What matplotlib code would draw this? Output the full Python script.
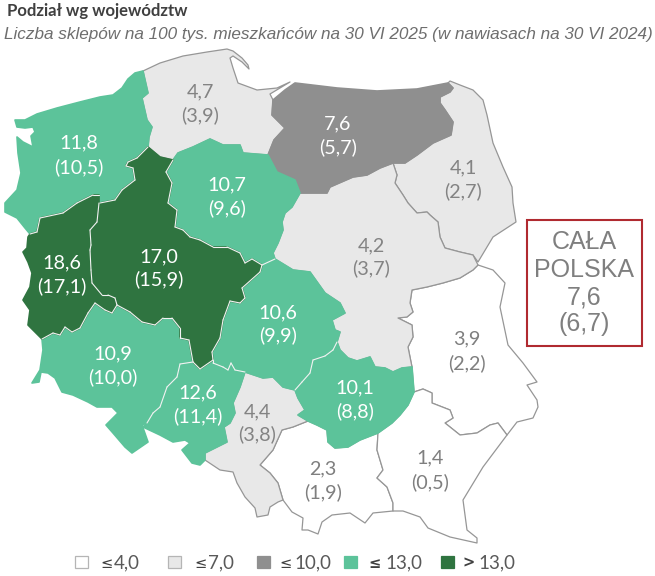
import matplotlib
matplotlib.use("Agg")
import matplotlib.pyplot as plt
from matplotlib.patches import Polygon, Rectangle

# --- data ---
regions = ["zachodniopomorskie", "pomorskie", "warminsko-mazurskie", "podlaskie",
           "kujawsko-pomorskie", "wielkopolskie", "lubuskie", "dolnoslaskie",
           "opolskie", "slaskie", "lodzkie", "mazowieckie", "swietokrzyskie",
           "malopolskie", "lubelskie", "podkarpackie"]
values_2025 = [11.8, 4.7, 7.6, 4.1, 10.7, 17.0, 18.6, 10.9, 12.6, 4.4, 10.6, 4.2, 10.1, 2.3, 3.9, 1.4]
values_2024 = [10.5, 3.9, 5.7, 2.7, 9.6, 15.9, 17.1, 10.0, 11.4, 3.8, 9.9, 3.7, 8.8, 1.9, 2.2, 0.5]
thresholds = [4.0, 7.0, 10.0, 13.0]
legend_signs = ["≤", "≤", "≤", "≤", ">"]
legend_numbers = ["4,0", "7,0", "10,0", "13,0", "13,0"]
total_2025 = 7.6
total_2024 = 6.7

# region outlines (pixels)
shapes = {
    "zachodniopomorskie": [(143,71),(135,73),(128,79),(122,88),(113,95),(100,97),(80,102),(57,108),(37,114),(25,120),(15,120),(17,127),(25,128),(33,127),(35,132),(31,136),(33,147),(23,142),(17,137),(18,153),(21,173),(17,190),(5,203),(5,212),(17,218),(25,228),(30,234),(37,232),(40,218),(63,213),(77,203),(93,195),(99,195),(100,203),(115,200),(122,190),(135,180),(133,168),(126,166),(128,162),(137,158),(148,147),(149,137),(152,127),(147,120),(142,98),(148,93)],
    "pomorskie": [(143,71),(160,63),(183,56),(207,52),(227,49),(233,51),(242,58),(248,65),(249,69),(242,62),(233,56),(230,58),(233,68),(238,83),(257,90),(277,88),(290,82),(270,94),(273,100),(272,115),(285,128),(274,140),(268,155),(243,153),(240,145),(223,145),(210,139),(193,147),(178,153),(173,160),(160,157),(148,147),(149,137),(152,127),(147,120),(142,98),(148,93)],
    "warminsko-mazurskie": [(295,83),(337,88),(377,91),(417,89),(448,83),(453,88),(450,92),(440,97),(440,103),(445,110),(453,122),(451,135),(433,143),(417,155),(405,163),(393,163),(380,168),(367,175),(353,177),(330,187),(327,193),(307,193),(300,193),(295,180),(277,172),(268,155),(274,140),(285,128),(272,115),(273,100),(285,90)],
    "podlaskie": [(448,83),(450,81),(460,85),(473,90),(483,100),(487,115),(493,143),(503,167),(512,187),(513,203),(516,222),(493,237),(478,262),(473,255),(460,252),(445,248),(440,237),(438,222),(430,215),(427,212),(417,213),(408,203),(403,195),(395,183),(397,175),(393,163),(405,163),(417,155),(433,143),(451,135),(453,122),(445,110),(440,103),(440,97),(450,92),(453,88)],
    "kujawsko-pomorskie": [(178,153),(193,147),(210,139),(223,145),(240,145),(243,153),(268,155),(277,172),(295,180),(300,193),(292,207),(285,213),(282,222),(283,230),(278,243),(273,253),(275,259),(262,265),(252,259),(245,263),(240,253),(227,247),(213,247),(200,240),(190,237),(183,230),(175,227),(177,210),(168,203),(172,183),(166,172),(173,160)],
    "wielkopolskie": [(148,147),(160,157),(173,160),(166,172),(172,183),(168,203),(177,210),(175,227),(183,230),(190,237),(200,240),(213,247),(227,247),(240,253),(245,263),(252,259),(262,265),(260,272),(242,288),(245,298),(240,303),(230,301),(223,320),(220,338),(212,352),(213,360),(200,369),(193,362),(189,340),(180,338),(180,328),(172,318),(163,318),(155,325),(142,322),(130,312),(117,305),(115,298),(108,295),(102,295),(92,283),(91,270),(90,250),(91,245),(90,230),(97,222),(99,203),(100,203),(115,200),(122,190),(135,180),(133,168),(126,166),(128,162),(137,158)],
    "lubuskie": [(30,234),(37,232),(40,218),(63,213),(77,203),(93,195),(99,195),(99,203),(97,222),(90,230),(91,245),(90,250),(91,270),(92,283),(102,295),(108,295),(115,298),(117,305),(112,313),(105,310),(95,303),(88,313),(80,328),(72,332),(65,327),(60,335),(53,333),(42,339),(28,325),(30,310),(23,300),(30,287),(32,273),(28,262),(23,252),(27,248),(28,237)],
    "dolnoslaskie": [(42,339),(53,333),(60,335),(65,327),(72,332),(80,328),(88,313),(95,303),(105,310),(112,313),(117,305),(130,312),(142,322),(155,325),(163,318),(172,318),(180,328),(180,338),(189,340),(193,362),(180,364),(177,377),(167,387),(160,407),(153,413),(147,423),(142,425),(148,442),(132,453),(125,447),(113,433),(106,425),(118,413),(112,407),(97,407),(88,402),(73,395),(62,392),(55,378),(48,373),(41,372),(39,382),(32,383),(40,370),(43,350)],
    "opolskie": [(180,364),(193,362),(200,369),(213,360),(213,363),(223,367),(228,370),(231,363),(235,370),(245,372),(240,387),(233,403),(235,413),(230,423),(224,427),(227,442),(205,453),(205,460),(200,465),(192,463),(182,450),(190,443),(185,440),(173,442),(160,435),(143,427),(147,423),(153,413),(160,407),(167,387),(177,377)],
    "slaskie": [(245,372),(263,378),(273,377),(283,387),(295,390),(298,398),(305,410),(298,415),(308,421),(293,427),(282,430),(273,450),(260,465),(270,473),(278,483),(283,500),(278,502),(270,507),(268,515),(257,517),(255,508),(245,497),(237,483),(233,472),(220,470),(205,460),(205,453),(227,442),(224,427),(230,423),(235,413),(233,403),(240,387)],
    "lodzkie": [(262,265),(275,259),(293,270),(310,272),(325,293),(340,303),(345,313),(332,320),(335,330),(340,332),(337,342),(333,350),(325,356),(313,360),(310,373),(302,382),(295,390),(283,387),(273,377),(263,378),(245,372),(235,370),(231,363),(228,370),(223,367),(213,363),(213,360),(212,352),(220,338),(223,320),(230,301),(240,303),(245,298),(242,288),(260,272)],
    "mazowieckie": [(300,193),(307,193),(327,193),(330,187),(353,177),(367,175),(380,168),(393,163),(397,175),(395,183),(403,195),(408,203),(417,213),(427,212),(430,215),(438,222),(440,237),(445,248),(460,252),(473,255),(478,265),(473,270),(460,278),(443,283),(427,287),(412,290),(410,303),(413,312),(407,317),(398,318),(412,325),(413,337),(408,347),(412,367),(402,368),(393,372),(385,368),(375,367),(370,357),(357,361),(348,358),(340,350),(337,342),(340,332),(335,330),(332,320),(345,313),(340,303),(325,293),(310,272),(293,270),(275,259),(273,253),(278,243),(283,230),(282,222),(285,213),(292,207)],
    "swietokrzyskie": [(337,342),(340,350),(348,358),(357,361),(370,357),(375,367),(385,368),(393,372),(402,368),(412,367),(414,392),(408,405),(400,415),(392,423),(378,433),(360,440),(348,447),(335,448),(328,442),(327,430),(317,425),(308,421),(298,415),(305,410),(298,398),(295,390),(302,382),(310,373),(313,360),(325,356),(333,350)],
    "malopolskie": [(308,421),(317,425),(327,430),(328,442),(335,448),(348,447),(360,440),(378,433),(377,450),(383,470),(377,478),(387,487),(393,503),(393,511),(373,513),(365,523),(350,513),(332,515),(322,522),(318,534),(308,530),(302,530),(303,518),(292,512),(283,500),(278,483),(270,473),(260,465),(273,450),(282,430),(293,427)],
    "lubelskie": [(478,265),(493,270),(505,283),(500,307),(508,345),(523,363),(537,382),(527,385),(537,400),(538,407),(533,418),(517,422),(507,435),(498,423),(490,425),(477,433),(460,435),(445,423),(453,418),(450,410),(432,403),(432,393),(423,389),(414,392),(412,367),(408,347),(413,337),(412,325),(398,318),(407,317),(413,312),(410,303),(412,290),(427,287),(443,283),(460,278),(473,270)],
    "podkarpackie": [(414,392),(423,389),(432,393),(432,403),(450,410),(453,418),(445,423),(460,435),(477,433),(490,425),(498,423),(507,435),(483,467),(463,500),(467,530),(477,538),(477,543),(450,537),(428,528),(420,517),(403,511),(393,511),(393,503),(387,487),(377,478),(383,470),(377,450),(378,433),(392,423),(400,415),(408,405)],
}

# label centres (pixels): 2025 line, 2024 line
label_pos = {
    "zachodniopomorskie": (79, 143, 167), "pomorskie": (200, 92, 115), "warminsko-mazurskie": (338, 124, 147),
    "podlaskie": (463, 168, 191), "kujawsko-pomorskie": (227, 185, 208), "wielkopolskie": (159, 257, 279),
    "lubuskie": (62, 263, 286), "dolnoslaskie": (113, 354, 377), "opolskie": (198, 393, 416),
    "slaskie": (257, 412, 434), "lodzkie": (278, 313, 335), "mazowieckie": (371, 246, 268),
    "swietokrzyskie": (355, 388, 411), "malopolskie": (323, 469, 492), "lubelskie": (467, 339, 363),
    "podkarpackie": (430, 458, 482),
}

colors = ["#ffffff", "#e8e8e8", "#8f8f8f", "#5cc39a", "#2f7440"]
text_colors = ["#7f7f7f", "#838383", "#ffffff", "#ffffff", "#ffffff"]
line_gray = "#969696"
num_font = "Lato"


def fmt(v):
    return f"{v:.1f}".replace(".", ",")


def bin_of(v):
    for i, t in enumerate(thresholds):
        if v <= t:
            return i
    return len(thresholds)


def segments(pts):
    return {frozenset((pts[i], pts[(i + 1) % len(pts)])) for i in range(len(pts))}


fig = plt.figure(figsize=(6.55, 5.76), dpi=100)
ax = fig.add_axes([0, 0, 1, 1])
ax.set_xlim(0, 655)
ax.set_ylim(576, 0)
ax.axis("off")

# light regions first so their grey borders get covered by the filled ones
order = sorted(range(len(regions)), key=lambda i: bin_of(values_2025[i]))
for i in order:
    b = bin_of(values_2025[i])
    edge, lw = (line_gray, 0.9) if b < 2 else (colors[b], 1.2)
    ax.add_patch(Polygon(shapes[regions[i]], closed=True, facecolor=colors[b], edgecolor=edge,
                         linewidth=lw, joinstyle="round", zorder=2 + b))

# thin white line only where two green regions touch
green = [r for r, v in zip(regions, values_2025) if bin_of(v) >= 3]
for a in range(len(green)):
    for c in range(a + 1, len(green)):
        for seg in segments(shapes[green[a]]) & segments(shapes[green[c]]):
            (x0, y0), (x1, y1) = tuple(seg)
            ax.plot([x0, x1], [y0, y1], color="#f2f2f2", lw=0.8, solid_capstyle="round", zorder=8)

for i, name in enumerate(regions):
    x, y1, y2 = label_pos[name]
    c = text_colors[bin_of(values_2025[i])]
    ax.text(x, y1, fmt(values_2025[i]), ha="center", va="center", fontsize=14.2, color=c, family=num_font, zorder=10)
    ax.text(x, y2, f"({fmt(values_2024[i])})", ha="center", va="center", fontsize=14.2, color=c, family=num_font, zorder=10)

# title and subtitle
ax.text(7, 11, "Podział wg województw", fontsize=12, fontweight="bold", color="#404040",
        family="Lato", ha="left", va="center")
ax.text(4, 34, "Liczba sklepów na 100 tys. mieszkańców na 30 VI 2025 (w nawiasach na 30 VI 2024)",
        fontsize=12.35, style="italic", color="#6e6e6e", family="Liberation Sans", ha="left", va="center")

# total box
ax.add_patch(Rectangle((527, 220), 115, 126, facecolor="white", edgecolor="#b02a30", linewidth=1.5, zorder=5))
box_lines = ["CAŁA", "POLSKA", fmt(total_2025), f"({fmt(total_2024)})"]
for line, y in zip(box_lines, [242, 270, 297, 324]):
    ax.text(584.5, y, line, ha="center", va="center", fontsize=18, color="#7f7f7f",
            family="Liberation Sans", zorder=6)

# legend
legend_x = [75, 168, 257, 344, 441]
sign_x = [100, 194, 279, 368, 463]
number_x = [114, 208, 294, 385, 478]
for k in range(5):
    ax.add_patch(Rectangle((legend_x[k], 556), 13, 12, facecolor=colors[k],
                           edgecolor="#b5b5b5" if k < 2 else colors[k], linewidth=0.9))
    ax.text(sign_x[k], 563, legend_signs[k], fontsize=10.5, color="#404040", family="DejaVu Sans",
            fontweight="bold" if k >= 3 else "normal", ha="left", va="center")
    ax.text(number_x[k], 563, legend_numbers[k], fontsize=13.5, color="#595959", family=num_font,
            ha="left", va="center")

fig.savefig("out.png", dpi=100)
